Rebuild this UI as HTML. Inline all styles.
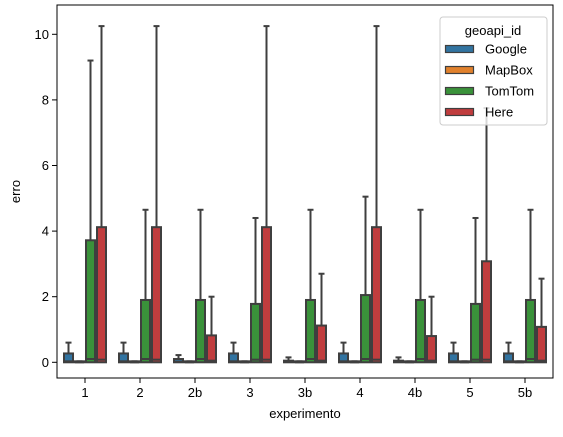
<!DOCTYPE html>
<html><head><meta charset="utf-8"><style>
body{margin:0;background:#fff;font-family:"Liberation Sans",sans-serif}
</style></head><body>
<svg id="chart" width="563" height="432" xmlns="http://www.w3.org/2000/svg" font-family="Liberation Sans, sans-serif">
</svg>
<script>
const categories=["1","2","2b","3","3b","4","4b","5","5b"];
const series=["Google","MapBox","TomTom","Here"];
const colors=["#3274a1","#e1812c","#3a923a","#c03d3e"];
const q1=[[0,0,0,0],[0,0,0,0],[0,0,0,0],[0,0,0,0],[0,0,0,0],[0,0,0,0],[0,0,0,0],[0,0,0,0],[0,0,0,0]];
const medians=[[0.03,0,0.1,0.08],[0.03,0,0.1,0.08],[0.02,0,0.1,0.05],[0.03,0,0.08,0.08],[0.02,0,0.1,0.05],[0.03,0,0.1,0.08],[0.02,0,0.1,0.05],[0.03,0,0.08,0.08],[0.03,0,0.1,0.05]];
const q3=[[0.27,0.03,3.72,4.12],[0.27,0.03,1.9,4.12],[0.1,0.03,1.9,0.82],[0.27,0.03,1.78,4.12],[0.05,0.03,1.9,1.12],[0.27,0.03,2.05,4.12],[0.05,0.03,1.9,0.8],[0.27,0.03,1.78,3.08],[0.27,0.03,1.9,1.08]];
const whiskHi=[[0.6,0.03,9.2,10.25],[0.6,0.03,4.65,10.25],[0.22,0.03,4.65,2.0],[0.6,0.03,4.4,10.25],[0.15,0.03,4.65,2.7],[0.6,0.03,5.05,10.25],[0.15,0.03,4.65,2.0],[0.6,0.03,4.4,7.75],[0.6,0.03,4.65,2.55]];
const yTicks=[0,2,4,6,8,10];

const svg=document.getElementById('chart');
const NS="http://www.w3.org/2000/svg";
const L=57,R=553,T=5,B=378;
const y=v=>362.3-v*32.8;
const xc=i=>85+i*55;
function mk(tag,at){const e=document.createElementNS(NS,tag);for(const k in at)e.setAttribute(k,at[k]);svg.appendChild(e);return e;}
const ln="#3f3f3f";
categories.forEach((c,i)=>{
  series.forEach((s,j)=>{
    const bw=11,x0=xc(i)-22+j*bw,xm=x0+bw/2;
    const w=mk('line',{x1:xm,x2:xm,y1:y(q3[i][j]),y2:y(whiskHi[i][j]),stroke:ln,'stroke-width':2});
    
    
    const cap=mk('line',{x1:xm-3,x2:xm+3,y1:y(whiskHi[i][j]),y2:y(whiskHi[i][j]),stroke:ln,'stroke-width':2});
    
    
    const b=mk('rect',{x:x0+1,y:y(q3[i][j]),width:bw-2,height:Math.max(0.5,y(q1[i][j])-y(q3[i][j])),fill:colors[j],stroke:ln,'stroke-width':2});
    
    
    const m=mk('line',{x1:x0+1,x2:x0+bw-1,y1:y(medians[i][j]),y2:y(medians[i][j]),stroke:ln,'stroke-width':2});
    
    
  });
  const t=mk('line',{x1:xc(i),x2:xc(i),y1:B,y2:B+5,stroke:'#000','stroke-width':1});
  
  
  const tl=mk('text',{x:xc(i),y:B+19,'text-anchor':'middle','font-size':13});
  tl.textContent=c;
  
  
});
yTicks.forEach(v=>{
  const t=mk('line',{x1:L-5,x2:L,y1:y(v),y2:y(v),stroke:'#000','stroke-width':1});
  
  
  const tl=mk('text',{x:L-8,y:y(v)+4.5,'text-anchor':'end','font-size':13});
  tl.textContent=v;
  
  
});
const fr=mk('rect',{x:L,y:T,width:R-L,height:B-T,fill:'none',stroke:'#000','stroke-width':1});


const xt=mk('text',{x:(L+R)/2,y:418,'text-anchor':'middle','font-size':13});
xt.textContent='experimento';


const yt=mk('text',{x:20,y:(T+B)/2,'text-anchor':'middle','font-size':13,transform:'rotate(-90 20 '+((T+B)/2)+')'});
yt.textContent='erro';


const lg=mk('rect',{x:440,y:17,width:107,height:108,fill:'#fff','fill-opacity':0.8,stroke:'#ccc',rx:3});


const lt=mk('text',{x:493,y:35,'text-anchor':'middle','font-size':13});
lt.textContent='geoapi_id';


series.forEach((s,j)=>{
  const yy=49+j*21;
  const r=mk('rect',{x:445.5,y:yy-3.5,width:28,height:7,fill:colors[j],stroke:ln,'stroke-width':1.2});
  
  
  const tx=mk('text',{x:485,y:yy+4.5,'font-size':13});
  tx.textContent=s;
  
  
});
</script>
</body></html>
